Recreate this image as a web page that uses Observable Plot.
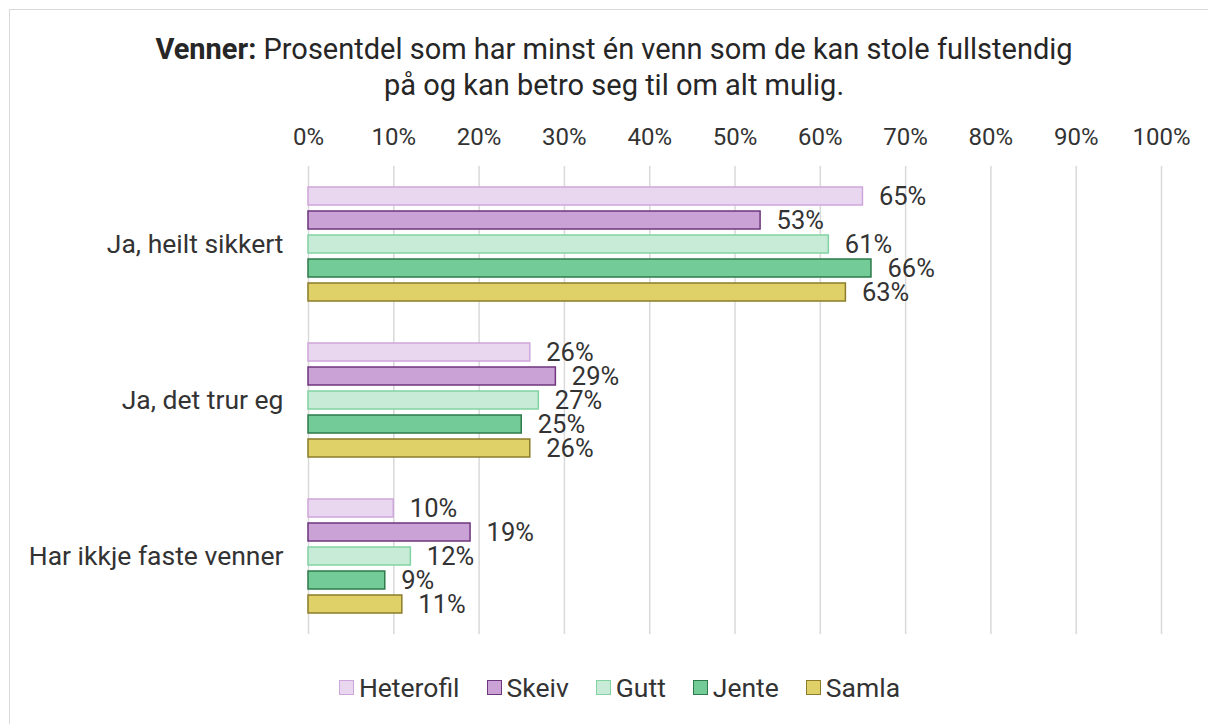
<!DOCTYPE html>
<html><head><meta charset="utf-8">
<script src="https://cdn.jsdelivr.net/npm/d3@7"></script>
<script src="https://cdn.jsdelivr.net/npm/@observablehq/plot@0.6"></script>
<style>
html,body{margin:0;padding:0;background:#fff;overflow:hidden;}
body{width:1208px;height:724px;position:relative;font-family:Roboto,sans-serif;color:#333;}
#frame{position:absolute;left:9px;top:9px;width:1220px;height:730px;border:1px solid #d9d9d9;box-sizing:border-box;}
#title{position:absolute;left:9px;width:1210px;top:31px;text-align:center;font-size:29px;line-height:36px;color:#262626;}
#chart{position:absolute;left:0;top:110px;}
#legend{position:absolute;left:0;width:1239px;top:672px;display:flex;justify-content:center;gap:27px;font-size:26.5px;color:#333;}
#legend .item{display:flex;align-items:center;gap:5px;}
#legend .sw{width:13px;height:13px;border:1.5px solid;box-sizing:content-box;display:inline-block;}
</style></head>
<body>
<div id="frame"></div>
<div id="title"><b>Venner:</b> Prosentdel som har minst én venn som de kan stole fullstendig<br>på og kan betro seg til om alt mulig.</div>
<div id="chart"></div>
<div id="legend"></div>
<script>
const categories = ["Ja, heilt sikkert", "Ja, det trur eg", "Har ikkje faste venner"];
const series = ["Heterofil", "Skeiv", "Gutt", "Jente", "Samla"];
const heterofil = [65, 26, 10];
const skeiv = [53, 29, 19];
const gutt = [61, 27, 12];
const jente = [66, 25, 9];
const samla = [63, 26, 11];
const xTicks = [0, 10, 20, 30, 40, 50, 60, 70, 80, 90, 100];
const fills = ["#e8d7ee", "#cba2d6", "#c7ebd7", "#73cb97", "#dfd168"];
const strokes = ["#cfa6dc", "#6e367d", "#82d3a2", "#2e7a4b", "#8a7c2a"];

const valuesBySeries = [heterofil, skeiv, gutt, jente, samla];
const data = [];
categories.forEach((c, ci) => series.forEach((s, si) => data.push({category: c, series: s, value: valuesBySeries[si][ci]})));
const fillOf = Object.fromEntries(series.map((s, i) => [s, fills[i]]));
const strokeOf = Object.fromEntries(series.map((s, i) => [s, strokes[i]]));

const chart = Plot.plot({
  width: 1208, height: 540,
  marginLeft: 308, marginRight: 47, marginTop: 56, marginBottom: 16,
  style: {fontFamily: "Roboto, sans-serif", color: "#333", background: "transparent"},
  x: {domain: [0, 100], axis: null},
  y: {domain: series, axis: null, paddingInner: 0.27, paddingOuter: 0.85},
  fy: {domain: categories, padding: 0, axis: null},
  marks: [
    Plot.gridX(xTicks, {stroke: "#d9d9d9", strokeOpacity: 1, strokeWidth: 1.5}),
    Plot.axisX({anchor: "top", ticks: xTicks, tickSize: 0, tickPadding: 22, tickFormat: d => d + "%", fontSize: 24, label: null}),
    Plot.axisFy({anchor: "left", tickSize: 0, tickPadding: 25, fontSize: 26.5, label: null}),
    Plot.barX(data, {x: "value", y: "series", fy: "category", fill: d => fillOf[d.series], stroke: d => strokeOf[d.series], strokeWidth: 1.5}),
    Plot.text(data, {x: "value", y: "series", fy: "category", text: d => d.value + "%", dx: 16, textAnchor: "start", fontSize: 25.5, fill: "#333"})
  ]
});
document.getElementById("chart").appendChild(chart);

const leg = document.getElementById("legend");
series.forEach((s, i) => {
  const it = document.createElement("div"); it.className = "item";
  const sw = document.createElement("span"); sw.className = "sw";
  sw.style.background = fills[i]; sw.style.borderColor = strokes[i];
  const t = document.createElement("span"); t.textContent = s;
  it.appendChild(sw); it.appendChild(t); leg.appendChild(it);
});
</script>
</body></html>
